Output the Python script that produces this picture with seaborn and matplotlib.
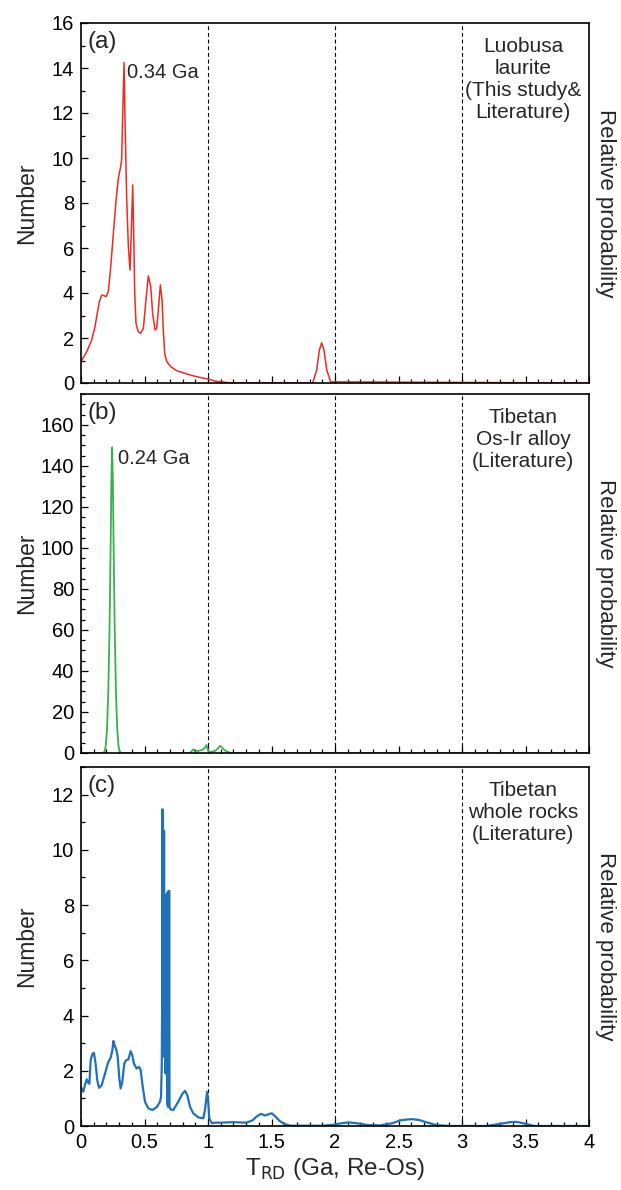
import matplotlib
matplotlib.use("Agg")
import matplotlib.pyplot as plt
from matplotlib.ticker import MultipleLocator
import seaborn as sns

# (a) Luobusa laurite
age_a = [0.0, 0.045, 0.084, 0.110, 0.128, 0.144, 0.163, 0.181, 0.197, 0.215, 0.234,
         0.255, 0.276, 0.294, 0.312, 0.320, 0.328, 0.339, 0.346, 0.360, 0.373, 0.386,
         0.396, 0.407, 0.415, 0.423, 0.433, 0.451, 0.470, 0.491, 0.509, 0.530, 0.549,
         0.564, 0.583, 0.596, 0.609, 0.625, 0.638, 0.648, 0.659, 0.675, 0.706, 0.753,
         0.832, 0.911, 0.995, 1.068, 1.173, 1.824, 1.856, 1.877, 1.895, 1.913, 1.935,
         1.966, 4.0]
num_a = [0.95, 1.39, 1.91, 2.5, 3.1, 3.6, 3.91, 3.88, 3.84, 4.06, 5.17,
         6.65, 8.13, 9.1, 9.61, 9.91, 11.8, 14.24, 11.84, 8.13, 6.06, 5.02,
         6.65, 8.8, 6.65, 3.99, 2.65, 2.28, 2.21, 2.43, 3.54, 4.76, 4.28,
         3.1, 2.36, 2.43, 3.24, 4.36, 3.69, 2.36, 1.32, 0.95, 0.73, 0.55,
         0.4, 0.28, 0.18, 0.07, 0.01, 0.0, 0.58, 1.47, 1.79, 1.47, 0.58,
         0.05, 0.0]

# (b) Tibetan Os-Ir alloy
age_b = [0.0, 0.170, 0.185, 0.195, 0.205, 0.215, 0.225, 0.233, 0.239, 0.245, 0.251,
         0.257, 0.265, 0.275, 0.285, 0.295, 0.305, 0.320, 0.860, 0.875, 0.885, 0.900,
         0.915, 0.935, 0.955, 0.975, 0.988, 0.998, 1.008, 1.030, 1.055, 1.075, 1.095,
         1.110, 1.130, 1.160, 1.190, 4.0]
num_b = [0.0, 0.0, 0.6, 3.5, 12, 30, 62, 100, 132, 149, 132,
         100, 62, 30, 12, 3.5, 0.6, 0.0, 0.0, 1.2, 1.8, 0.3,
         0.9, 1.2, 1.5, 2.5, 3.9, 2.0, 0.3, 0.6, 1.0, 2.0, 3.5,
         2.7, 1.4, 0.4, 0.0, 0.0]

# (c) Tibetan whole rocks
age_c = [0.0, 0.018, 0.031, 0.045, 0.058, 0.066, 0.076, 0.089, 0.102, 0.115, 0.128,
         0.142, 0.163, 0.189, 0.215, 0.234, 0.247, 0.255, 0.265, 0.278, 0.289, 0.302,
         0.312, 0.325, 0.341, 0.354, 0.373, 0.391, 0.404, 0.417, 0.438, 0.457, 0.470,
         0.486, 0.504, 0.530, 0.562, 0.596, 0.622, 0.630, 0.636, 0.639, 0.641, 0.643,
         0.645, 0.647, 0.650, 0.652, 0.654, 0.656, 0.659, 0.663, 0.667, 0.675, 0.678,
         0.681, 0.684, 0.688, 0.691, 0.694, 0.697, 0.705, 0.727, 0.766, 0.800, 0.819,
         0.837, 0.858, 0.884, 0.924, 0.963, 0.976, 0.993, 1.001, 1.010, 1.030, 1.050,
         1.100, 1.200, 1.300, 1.350, 1.380, 1.415, 1.450, 1.480, 1.500, 1.530, 1.560,
         1.600, 1.650, 1.900, 1.980, 2.050, 2.110, 2.170, 2.250, 2.350, 2.450, 2.520,
         2.600, 2.660, 2.730, 2.800, 2.900, 3.200, 3.300, 3.380, 3.430, 3.500, 3.570,
         4.0]
num_c = [1.40, 1.24, 1.48, 1.69, 1.56, 1.53, 2.38, 2.6, 2.65, 2.26, 1.66,
         1.38, 1.48, 1.9, 2.32, 2.48, 2.74, 3.08, 2.92, 2.77, 2.5, 1.72,
         1.36, 1.6, 2.26, 2.38, 2.41, 2.71, 2.56, 2.26, 2.08, 2.14, 2.02,
         1.42, 0.88, 0.64, 0.58, 0.68, 0.88, 1.05, 2.2, 4.5, 11.47, 3.2,
         11.4, 2.7, 10.7, 2.6, 10.69, 2.5, 3.5, 2.0, 1.9, 8.4, 0.8,
         8.45, 0.7, 8.5, 0.7, 8.52, 0.7, 0.6, 0.58, 0.88, 1.18, 1.27,
         1.12, 0.7, 0.46, 0.31, 0.28, 0.58, 1.24, 0.94, 0.28, 0.1, 0.12,
         0.12, 0.14, 0.12, 0.2, 0.33, 0.44, 0.38, 0.43, 0.46, 0.35, 0.2,
         0.07, 0.01, 0.01, 0.04, 0.1, 0.13, 0.1, 0.04, 0.02, 0.1, 0.21,
         0.25, 0.22, 0.12, 0.03, 0.0, 0.0, 0.08, 0.14, 0.15, 0.08, 0.0,
         0.0]

panel_tags = ["(a)", "(b)", "(c)"]
notes = ["Luobusa\nlaurite\n(This study&\nLiterature)",
         "Tibetan\nOs-Ir alloy\n(Literature)",
         "Tibetan\nwhole rocks\n(Literature)"]
peak_labels = [(0.36, 13.8, "0.34 Ga"), (0.295, 143.5, "0.24 Ga")]
colors = ["#ee2a24", "#3bb04f", "#1f72b8"]
ylims = [16, 175, 13]
ymajor = [2, 20, 2]
yminor = [1, 5, 1]
x_ticks = [0, 0.5, 1, 1.5, 2, 2.5, 3, 3.5, 4]
x_ticklabels = ["0", "0.5", "1", "1.5", "2", "2.5", "3", "3.5", "4"]

sns.set_style("ticks")
plt.rcParams["font.family"] = ["Liberation Sans", "DejaVu Sans"]

fig = plt.figure(figsize=(6.21, 11.9), dpi=100)
boxes = [(23, 383), (394, 753), (767, 1126)]
H = 1190.0
axes = []
for top, bot in boxes:
    ax = fig.add_axes([81 / 621, 1 - bot / H, 508 / 621, (bot - top) / H])
    axes.append(ax)

series = [(age_a, num_a), (age_b, num_b), (age_c, num_c)]
widths = [1.1, 1.3, 1.6]
for i, ax in enumerate(axes):
    xs, ys = series[i]
    sns.lineplot(x=xs, y=ys, ax=ax, color=colors[i], lw=widths[i],
                 sort=False, estimator=None)
    for v in [1, 2, 3]:
        ax.axvline(v, color="black", lw=0.8, ls=(0, (3.5, 2.5)), zorder=1)
    ax.set_xlim(0, 4)
    ax.set_ylim(0, ylims[i])
    ax.xaxis.set_major_locator(MultipleLocator(0.5))
    ax.xaxis.set_minor_locator(MultipleLocator(0.1))
    ax.yaxis.set_major_locator(MultipleLocator(ymajor[i]))
    ax.yaxis.set_minor_locator(MultipleLocator(yminor[i]))
    ax.tick_params(which="both", direction="in", top=False, right=False,
                   width=0.9, labelsize=14.5, colors="black")
    ax.tick_params(which="major", length=5, pad=5)
    ax.tick_params(which="minor", length=3.2)
    for s in ax.spines.values():
        s.set_linewidth(1.2)
        s.set_color("black")
    ax.set_ylabel("Number", fontsize=16.5)
    ax.yaxis.set_label_coords(-0.085, 0.5)
    ax.text(1.033, 0.5, "Relative probability", transform=ax.transAxes,
            rotation=-90, va="center", ha="center", fontsize=16)
    ax.text(0.012, 0.978, panel_tags[i], transform=ax.transAxes,
            va="top", ha="left", fontsize=17.5)
    ax.text(0.87, 0.962, notes[i], transform=ax.transAxes, va="top",
            ha="center", fontsize=15, linespacing=1.2)
    if i < 2:
        ax.set_xticklabels([])
        x0, y0, lab = peak_labels[i]
        ax.text(x0, y0, lab, va="center", ha="left", fontsize=14.5)
    else:
        ax.set_xticks(x_ticks)
        ax.set_xticklabels(x_ticklabels)
        ax.set_xlabel(r"T$_{\mathrm{RD}}$ (Ga, Re-Os)", fontsize=17.5, labelpad=3)

fig.savefig("out.png", dpi=100)
